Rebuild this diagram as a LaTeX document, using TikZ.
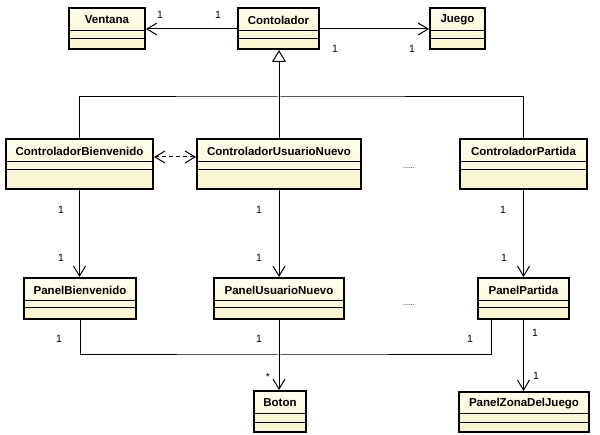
\documentclass[tikz,border=0pt]{standalone}
\usepackage{fontspec}
\setmainfont{Liberation Sans}
\usetikzlibrary{arrows.meta,fit}
\definecolor{boxtop}{RGB}{255,255,238}
\definecolor{boxbot}{RGB}{247,243,204}
\tikzset{
  classbox/.style={draw=black, line width=2pt, top color=boxtop, bottom color=boxbot, inner sep=0pt},
  classname/.style={font=\fontsize{11.5}{13}\selectfont\bfseries, inner sep=0pt},
  cline/.style={line width=1pt},
  conn/.style={line width=1pt},
  assoc/.style={conn, -{Straight Barb[length=10pt,width=12pt,line width=1pt]}},
  gen/.style={conn, -{Triangle[open,length=12pt,width=14pt,line width=1pt]}},
  dep/.style={conn, dash pattern=on 4pt off 3pt, {Straight Barb[length=10pt,width=12pt,line width=1pt]}-{Straight Barb[length=10pt,width=12pt,line width=1pt]}},
  mult/.style={font=\fontsize{10.5}{12}\selectfont, inner sep=0pt},
  dots/.style={font=\fontsize{7}{8}\selectfont, inner sep=0pt}
}
% name, x1, y1, x2, y2, text, lineA, lineB
\newcommand\umlclass[8]{%
  \node[classbox, fit={(#2,#3) (#4,#5)}] (#1) {};
  \node[classname] (#1t) at ({(#2+#4)/2},{(#3+#7)/2+0.5}) {#6};
  \draw[cline] (#2,#7) -- (#4,#7);
  \draw[cline] (#2,#8) -- (#4,#8);
}
\begin{document}
\begin{tikzpicture}[x=1pt,y=-1pt]
\useasboundingbox[fill=white] (0,0) rectangle (600,435);

\umlclass{ventana}{69}{8}{145}{49}{Ventana}{31}{39}
\umlclass{cont}{238}{8}{319}{49}{Contolador}{31}{39}
\umlclass{juego}{430}{8}{485}{49}{Juego}{31}{39}

\umlclass{cb}{6}{139}{153}{189}{ControladorBienvenido}{162}{170}
\umlclass{cun}{197}{139}{361}{189}{ControladorUsuarioNuevo}{162}{170}
\umlclass{cp}{460}{139}{587}{189}{ControladorPartida}{162}{170}

\umlclass{pb}{24}{278}{136}{319}{PanelBienvenido}{301}{308}
\umlclass{pun}{214}{278}{344}{319}{PanelUsuarioNuevo}{301}{308}
\umlclass{pp}{478}{278}{569}{319}{PanelPartida}{301}{308}

\umlclass{boton}{254}{391}{306}{432}{Boton}{414}{423}
\umlclass{pzj}{459}{392}{589}{432}{PanelZonaDelJuego}{414}{423}

% top associations
\draw[assoc] (cont.west |- 0,29) -- (ventana.east |- 0,29);
\draw[assoc] (cont.east |- 0,29) -- (juego.west |- 0,29);

% generalization
\coordinate (hb) at (279,97);
\draw[gen] (hb) -- (hb |- cont.south);
\draw[conn] (cb.north) |- (hb) -| (cp.north);
\draw[conn] (cun.north) -- (hb);

% dependency
\draw[dep] ([yshift=7pt]cb.east) -- ([yshift=7pt]cun.west);

% controllers to panels
\draw[assoc] (cb.south) -- (cb.south |- pb.north);
\draw[assoc] (cun.south) -- (cun.south |- pun.north);
\draw[assoc] (cp.south) -- (cp.south |- pp.north);

% panels to boton
\coordinate (jb) at (279,355);
\coordinate (ppl) at (491,319);
\draw[conn] (pb.south) |- (jb) -| (ppl);
\draw[assoc] (pun.south) -- (pun.south |- boton.north);
\draw[assoc] (pp.south) -- (pp.south |- pzj.north);

% multiplicities
\node[mult] (m1) at (160,15) {1};
\node[mult] (m2) at (218,15) {1};
\node[mult] (m3) at (335,49) {1};
\node[mult] (m4) at (412,49) {1};
\node[mult] (m5) at (61,210) {1};
\node[mult] (m6) at (259,210) {1};
\node[mult] (m7) at (503,210) {1};
\node[mult] (m8) at (61,258) {1};
\node[mult] (m9) at (259,258) {1};
\node[mult] (m10) at (504,258) {1};
\node[mult] (m11) at (59,339) {1};
\node[mult] (m12) at (259,339) {1};
\node[mult] (m13) at (470,339) {1};
\node[mult] (m14) at (535,333) {1};
\node[mult] (m15) at (268,377) {*};
\node[mult] (m16) at (536,376) {1};

\node[dots] (d1) at (409,168) {......};
\node[dots] (d2) at (409,305) {......};
\end{tikzpicture}
\end{document}
